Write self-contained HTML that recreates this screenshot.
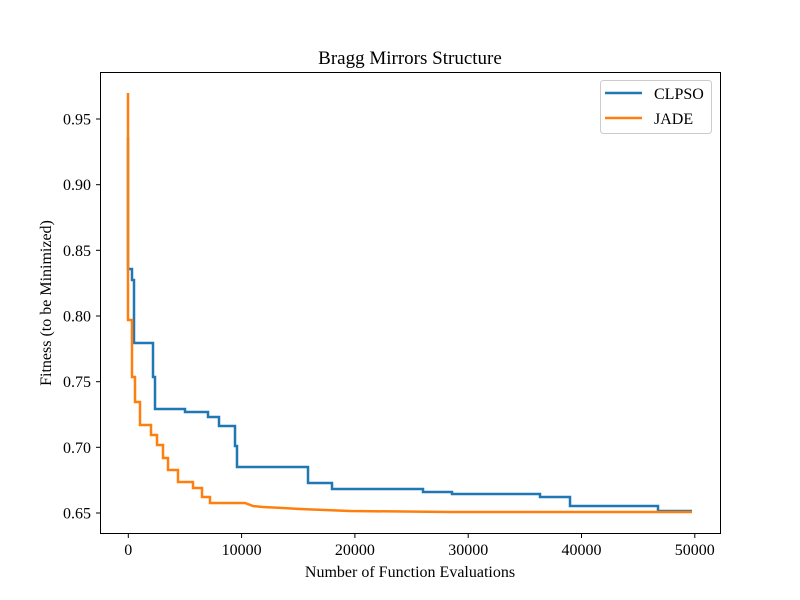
<!DOCTYPE html>
<html><head><meta charset="utf-8"><style>body{margin:0;background:#fff}svg{display:block}</style></head>
<body>
<svg width="800" height="600" xmlns="http://www.w3.org/2000/svg" font-family="Liberation Serif, serif">
<rect width="800" height="600" fill="#fff"/>
<text x="410" y="64" font-size="19" text-anchor="middle">Bragg Mirrors Structure</text>
<g fill="none" stroke-linejoin="miter" stroke-width="2.5">
<polyline stroke="#1f77b4" points="128,137 128,269 132,269 132,280 134,280 134,343 153,343 153,377 155,377 155,409 185,409 185,412 208,412 208,417 219,417 219,426 235,426 235,446 237,446 237,467 308,467 308,483 332,483 332,489 423,489 423,492 452,492 452,494 540,494 540,497 570,497 570,506 658,506 658,511 692,511"/>
<polyline stroke="#ff7f0e" points="128,93 128,320 132,320 132,377 135,377 135,402 140,402 140,425 151,425 151,435 157,435 157,445 163,445 163,458 168,458 168,470 178,470 178,482 193,482 193,488 202,488 202,497 210,497 210,503 245,503 253,506 263,507 283,508 300,509 350,511 450,512 692,512"/>
</g>
<rect x="100.5" y="72.5" width="620" height="461" fill="none" stroke="#000" stroke-width="1"/>
<g stroke="#000" stroke-width="1">
<line x1="128.3" y1="534" x2="128.3" y2="538"/><line x1="241.6" y1="534" x2="241.6" y2="538"/><line x1="354.9" y1="534" x2="354.9" y2="538"/><line x1="468.2" y1="534" x2="468.2" y2="538"/><line x1="581.5" y1="534" x2="581.5" y2="538"/><line x1="694.8" y1="534" x2="694.8" y2="538"/>
<line x1="96" y1="119" x2="100" y2="119"/><line x1="96" y1="184.7" x2="100" y2="184.7"/><line x1="96" y1="250.3" x2="100" y2="250.3"/><line x1="96" y1="316" x2="100" y2="316"/><line x1="96" y1="381.7" x2="100" y2="381.7"/><line x1="96" y1="447.3" x2="100" y2="447.3"/><line x1="96" y1="513" x2="100" y2="513"/>
</g>
<g font-size="16" text-anchor="middle">
<text x="128.3" y="555">0</text><text x="241.6" y="555">10000</text><text x="354.9" y="555">20000</text><text x="468.2" y="555">30000</text><text x="581.5" y="555">40000</text><text x="694.8" y="555">50000</text>
</g>
<g font-size="16" text-anchor="end">
<text x="91" y="124.5">0.95</text><text x="91" y="190">0.90</text><text x="91" y="256">0.85</text><text x="91" y="321.5">0.80</text><text x="91" y="387">0.75</text><text x="91" y="453">0.70</text><text x="91" y="518.5">0.65</text>
</g>
<text x="410" y="577" font-size="16" text-anchor="middle">Number of Function Evaluations</text>
<text transform="translate(51,303) rotate(-90)" font-size="16" text-anchor="middle">Fitness (to be Minimized)</text>
<rect x="600.5" y="80.5" width="111" height="53" rx="3" fill="#fff" stroke="#ccc" stroke-width="1"/>
<line x1="605" y1="93" x2="642" y2="93" stroke="#1f77b4" stroke-width="2.5"/>
<line x1="605" y1="118" x2="642" y2="118" stroke="#ff7f0e" stroke-width="2.5"/>
<text x="654" y="99" font-size="16">CLPSO</text>
<text x="654" y="124" font-size="16">JADE</text>
</svg>
</body></html>
